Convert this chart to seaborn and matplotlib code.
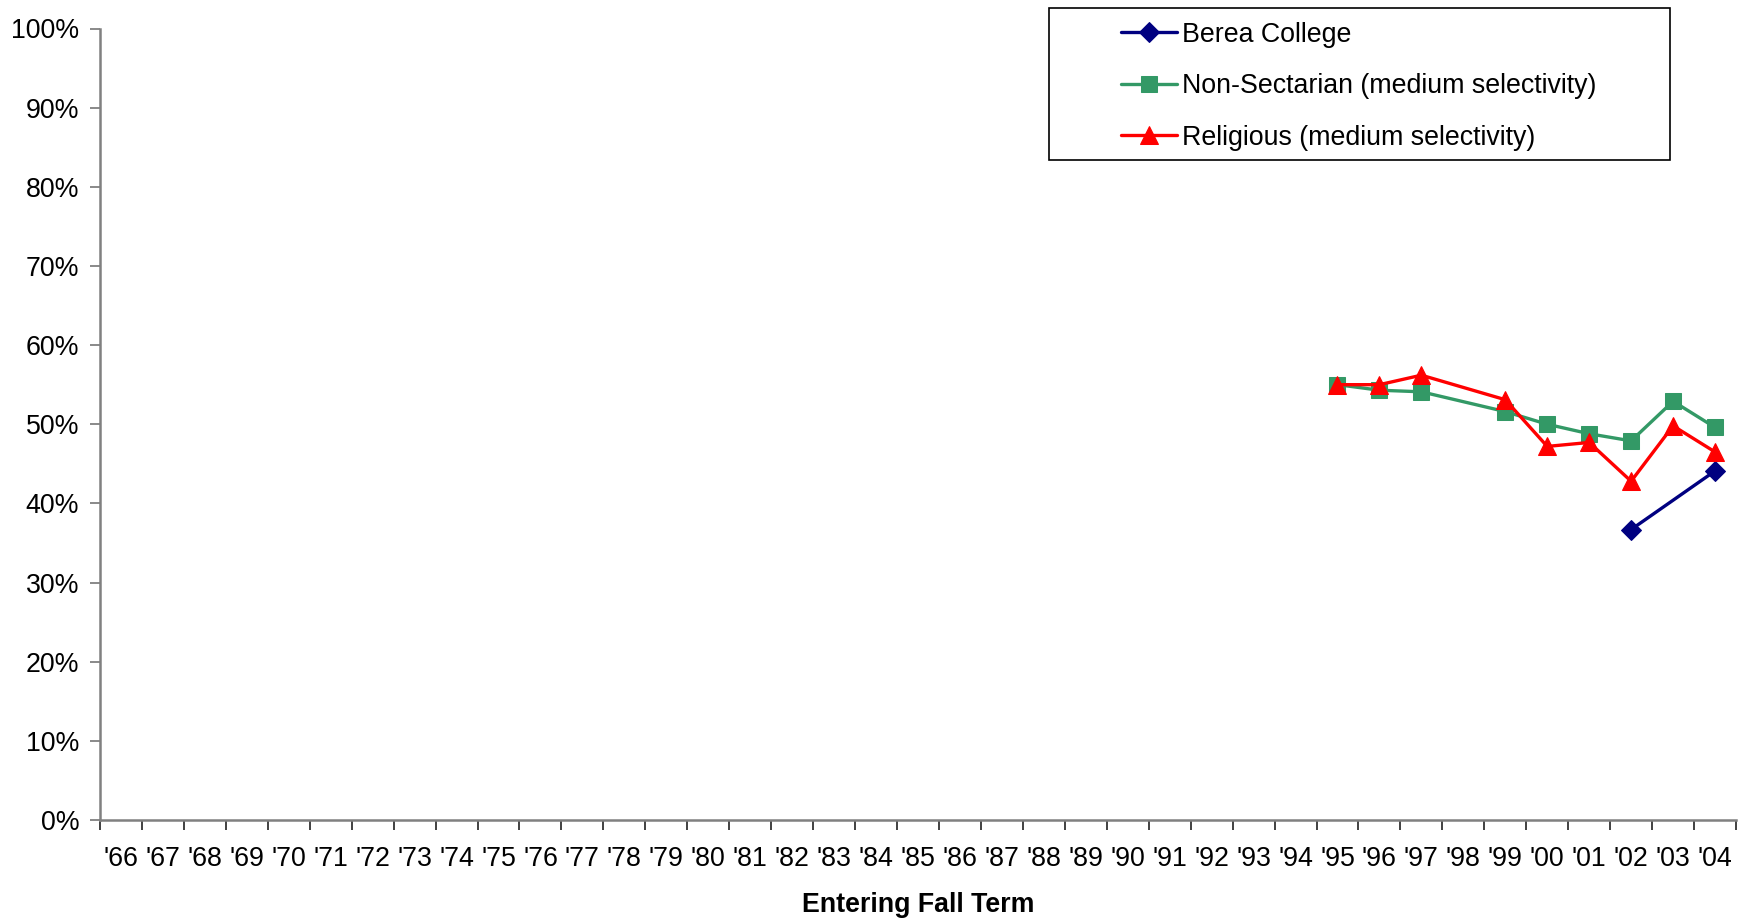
import numpy as np
import pandas as pd
import matplotlib
matplotlib.use("Agg")
import matplotlib.pyplot as plt
import seaborn as sns
from matplotlib.ticker import FixedLocator, PercentFormatter
from matplotlib.patches import Rectangle

# Data
years = ["'66", "'67", "'68", "'69", "'70", "'71", "'72", "'73", "'74", "'75",
         "'76", "'77", "'78", "'79", "'80", "'81", "'82", "'83", "'84", "'85",
         "'86", "'87", "'88", "'89", "'90", "'91", "'92", "'93", "'94", "'95",
         "'96", "'97", "'98", "'99", "'00", "'01", "'02", "'03", "'04"]

berea_years = ["'02", "'04"]
berea_vals = [0.367, 0.441]

nonsect_years = ["'95", "'96", "'97", "'99", "'00", "'01", "'02", "'03", "'04"]
nonsect_vals = [0.550, 0.543, 0.541, 0.516, 0.500, 0.488, 0.479, 0.529, 0.496]

relig_years = ["'95", "'96", "'97", "'99", "'00", "'01", "'02", "'03", "'04"]
relig_vals = [0.550, 0.550, 0.562, 0.531, 0.472, 0.477, 0.428, 0.498, 0.465]

series = [
    ("Berea College", berea_years, berea_vals, "#000080", "D", 10),
    ("Non-Sectarian (medium selectivity)", nonsect_years, nonsect_vals, "#339966", "s", 11),
    ("Religious (medium selectivity)", relig_years, relig_vals, "#FF0000", "^", 12.5),
]

sns.set_style("white")
plt.rcParams['font.family'] = ['Liberation Sans', 'DejaVu Sans']
plt.rcParams['text.color'] = 'black'
plt.rcParams['xtick.color'] = 'black'
plt.rcParams['ytick.color'] = 'black'
plt.rcParams['axes.labelcolor'] = 'black'

fs = 19.3

fig = plt.figure(figsize=(17.49, 9.18), dpi=100)
ax = fig.add_axes([100 / 1749, 1 - 820 / 918, (1736 - 100) / 1749, (820 - 28.5) / 918])

pos = {y: i + 0.5 for i, y in enumerate(years)}
for name, yrs, vals, color, marker, ms in series:
    df = pd.DataFrame({"x": [pos[y] for y in yrs], "val": vals})
    sns.lineplot(data=df, x="x", y="val", ax=ax, color=color, marker=marker,
                 markersize=ms, markeredgecolor=color, linewidth=2.4, label=name,
                 legend=False)

ax.set_xlim(0, len(years))
ax.set_ylim(0, 1)

# y axis
ax.set_yticks(np.arange(0, 1.01, 0.1))
ax.yaxis.set_major_formatter(PercentFormatter(1.0, decimals=0))
ax.tick_params(axis="y", which="major", direction="out", length=7, width=1.3,
               color="#808080", labelsize=fs, pad=8, left=True)

# x axis: ticks between categories, labels centered
ax.xaxis.set_major_locator(FixedLocator(np.arange(0, len(years) + 1)))
ax.xaxis.set_minor_locator(FixedLocator(np.arange(len(years)) + 0.5))
ax.set_xticklabels([], minor=False)
ax.set_xticklabels(years, minor=True)
ax.tick_params(axis="x", which="major", direction="out", length=7, width=1.3,
               color="#333333", bottom=True)
ax.tick_params(axis="x", which="minor", length=0, labelsize=fs, pad=19)
ax.set_xlabel("Entering Fall Term", fontsize=fs, fontweight="bold", labelpad=14)
ax.set_ylabel("")

sns.despine(ax=ax)
for side in ["left", "bottom"]:
    ax.spines[side].set_color("#808080")
    ax.spines[side].set_linewidth(1.8)

# legend box
fig.patches.append(Rectangle((1049 / 1749, 1 - 160 / 918), (1670 - 1049) / 1749,
                             (160 - 8) / 918, transform=fig.transFigure,
                             facecolor="white", edgecolor="black", linewidth=1.2,
                             zorder=5))
handles, labels = ax.get_legend_handles_labels()
leg = fig.legend(handles, labels, loc="upper left",
                 bbox_to_anchor=(1102 / 1749, 1 - 3 / 918), frameon=False,
                 fontsize=fs, handlelength=2.1, handletextpad=0.2,
                 labelspacing=0.95, borderpad=0.2)
leg.set_zorder(6)

plt.savefig("out.png", dpi=100)
